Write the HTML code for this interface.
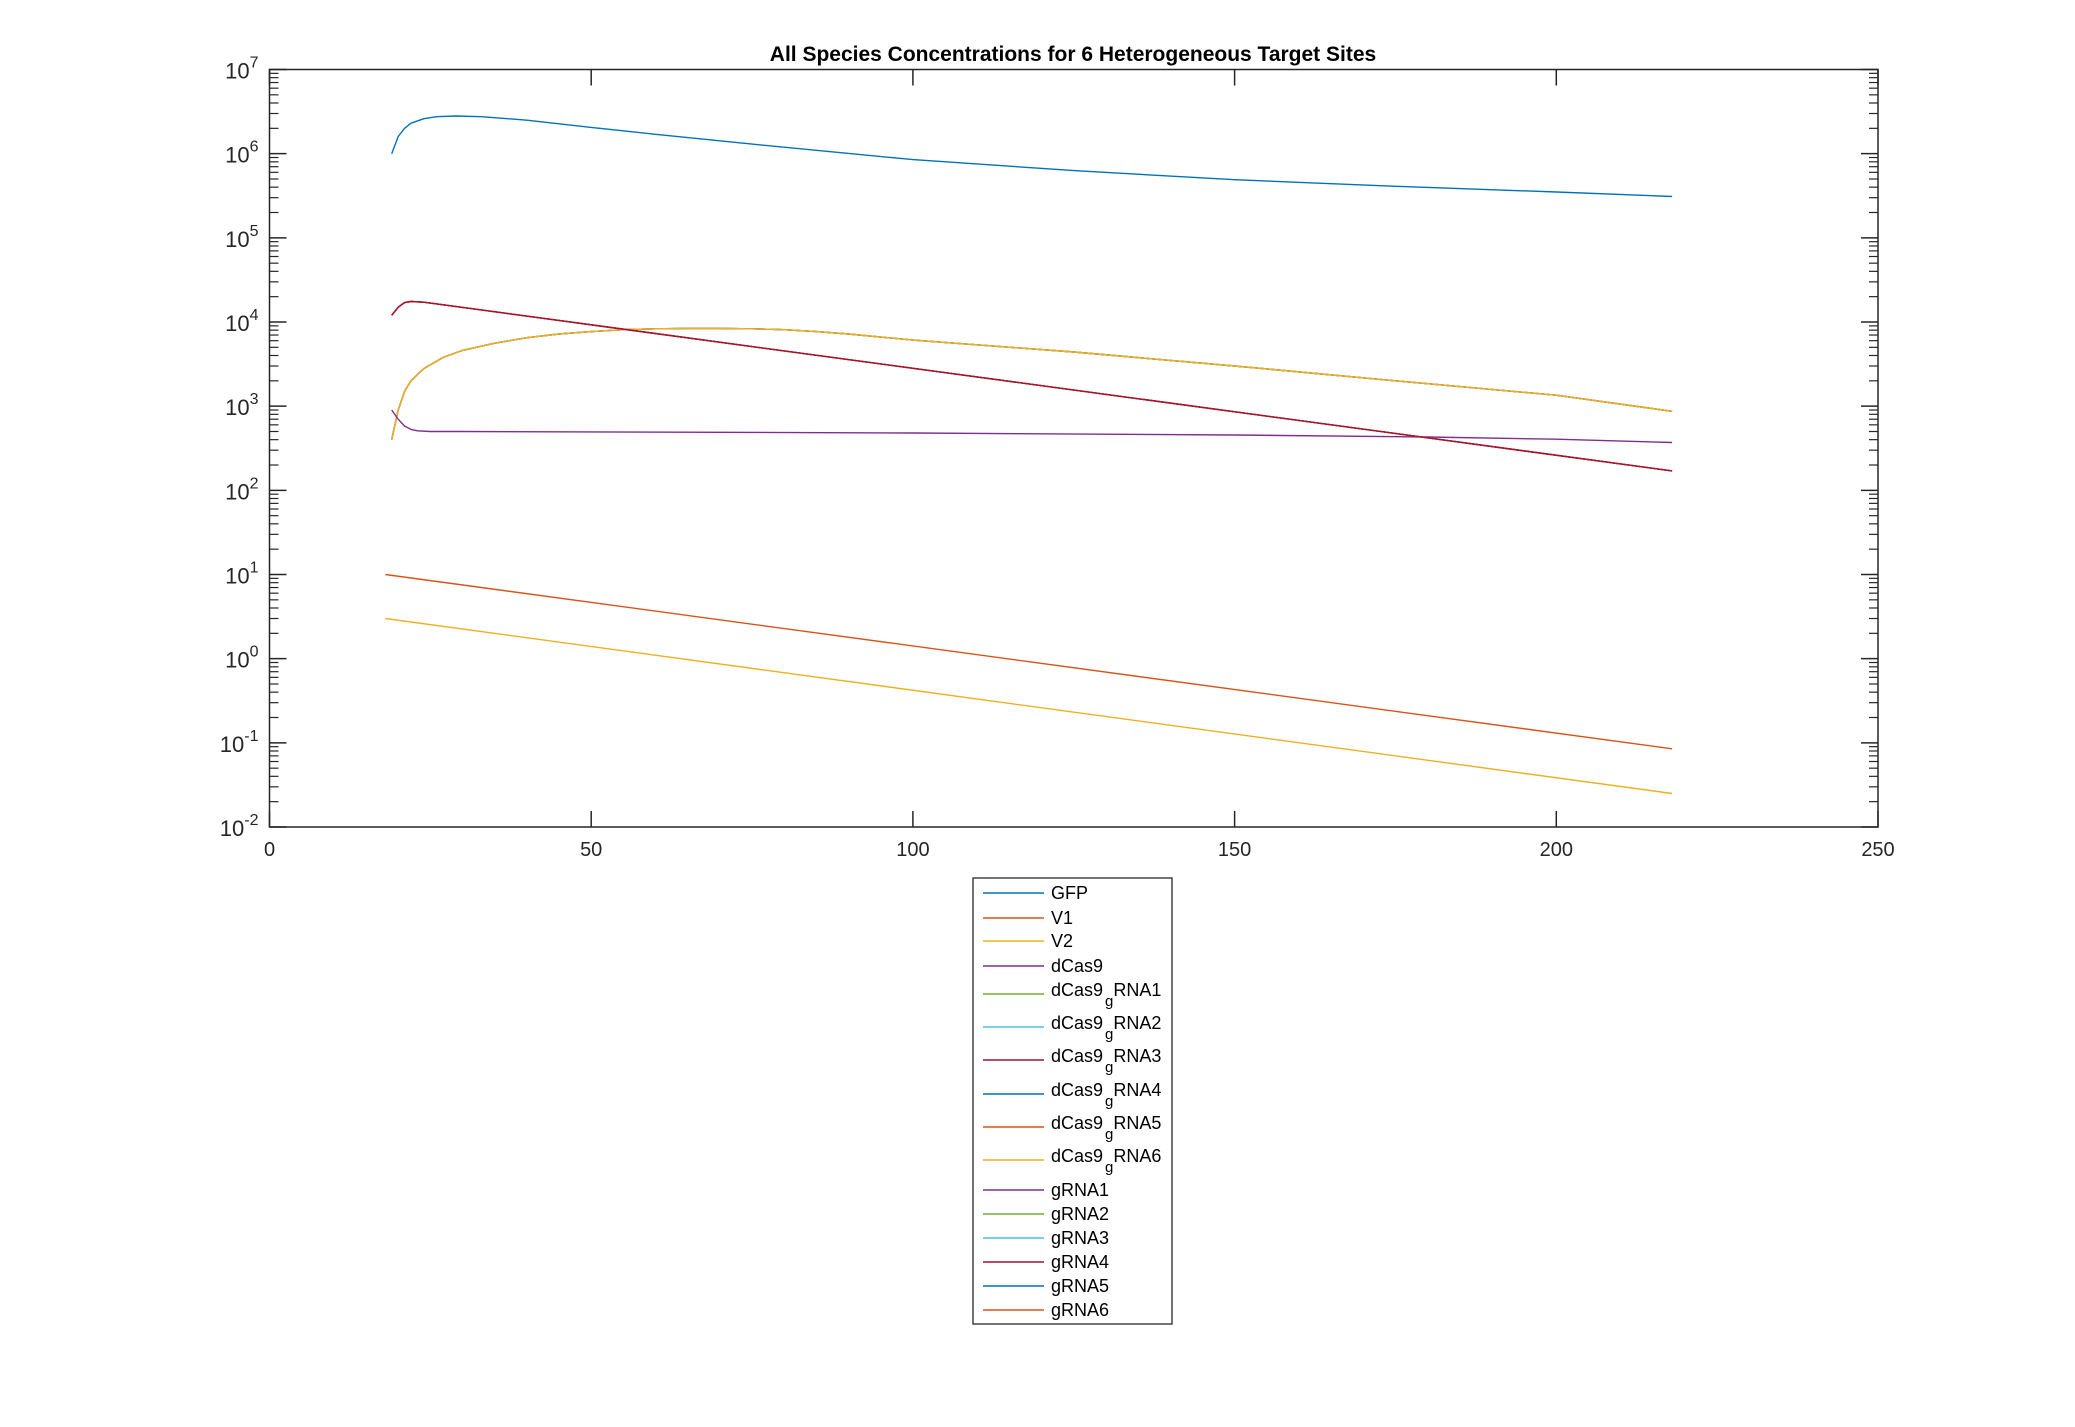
<!DOCTYPE html>
<html><head><meta charset="utf-8"><style>
html,body{margin:0;padding:0;background:#fff;}
svg{display:block;font-family:"Liberation Sans",Arial,sans-serif;}
</style></head><body>
<svg id="chart" width="2075" height="1427" viewBox="0 0 2075 1427">
<rect width="2075" height="1427" fill="#fff"/>
<text x="1073" y="61" text-anchor="middle" font-size="21" font-weight="bold" fill="#000">All Species Concentrations for 6 Heterogeneous Target Sites</text>
<g id="axes"></g>
<g id="series"></g>
<g id="legend"></g>
</svg>
<script>
const xTicks=[0,50,100,150,200,250];
const yExps=[-2,-1,0,1,2,3,4,5,6,7];
const gfpT=[19,20,21,22,24,26,29,33,40,50,60,75,100,125,150,175,200,218];
const gfpY=[1e6,1.6e6,2.0e6,2.3e6,2.6e6,2.75e6,2.8e6,2.75e6,2.5e6,2.05e6,1.7e6,1.3e6,8.5e5,6.3e5,4.9e5,4.1e5,3.5e5,3.1e5];
const v1T=[18,218];
const v1Y=[10,0.085];
const v2T=[18,218];
const v2Y=[3,0.025];
const complexT=[19,20,21,22,24,218];
const complexY=[1.2e4,1.5e4,1.7e4,1.75e4,1.72e4,170];
const riseT=[19,20,21,22,24,27,30,35,40,45,50,55,60,65,70,75,80,85,90,100,125,150,175,200,218];
const riseY=[400,900,1500,2000,2800,3800,4600,5600,6500,7200,7700,8100,8300,8400,8400,8300,8100,7700,7200,6100,4400,3000,2000,1350,870];
const gT=[19,20,21,22,23,25,30,50,100,150,180,200,218];
const gY=[900,700,580,530,510,500,500,495,480,455,430,405,370];
const legendLabels=["GFP","V1","V2","dCas9","dCas9_gRNA1","dCas9_gRNA2","dCas9_gRNA3","dCas9_gRNA4","dCas9_gRNA5","dCas9_gRNA6","gRNA1","gRNA2","gRNA3","gRNA4","gRNA5","gRNA6"];
const C=["#0072BD","#D95319","#EDB120","#7E2F8E","#77AC30","#4DBEEE","#A2142F"];
const L=269.5,R=1878,T=69.5,B=827;
const NS="http://www.w3.org/2000/svg";
function X(v){return L+(v-0)/(250-0)*(R-L);}
function Y(v){return B-(Math.log10(v)-(-2))/9*(B-T);}
function mk(tag,attrs,parent){const e=document.createElementNS(NS,tag);for(const k in attrs)e.setAttribute(k,attrs[k]);parent.appendChild(e);return e;}
const ax=document.getElementById('axes');
let box=mk('rect',{x:L,y:T,width:R-L,height:B-T,fill:'none',stroke:'#262626','stroke-width':1.5},ax);


xTicks.forEach(v=>{
  const x=X(v);
  let t1=mk('line',{x1:x,y1:B,x2:x,y2:B-16,stroke:'#262626','stroke-width':1.5},ax);
  
  
  mk('line',{x1:x,y1:T,x2:x,y2:T+16,stroke:'#262626','stroke-width':1.5},ax);
  let lb=mk('text',{x:x,y:B+29,'text-anchor':'middle','font-size':20,fill:'#262626'},ax);
  lb.textContent=String(v);
  
  
});
yExps.forEach(e=>{
  const y=Y(Math.pow(10,e));
  mk('line',{x1:L,y1:y,x2:L+17,y2:y,stroke:'#262626','stroke-width':1.5},ax);
  mk('line',{x1:R,y1:y,x2:R-17,y2:y,stroke:'#262626','stroke-width':1.5},ax);
  if(e<7){for(let m=2;m<=9;m++){const yy=Y(m*Math.pow(10,e));
    mk('line',{x1:L,y1:yy,x2:L+9,y2:yy,stroke:'#262626','stroke-width':1.2},ax);
    mk('line',{x1:R,y1:yy,x2:R-9,y2:yy,stroke:'#262626','stroke-width':1.2},ax);}}
  let lb=mk('text',{x:L-11,y:y+9,'text-anchor':'end','font-size':22,fill:'#262626'},ax);
  
  
  lb.appendChild(document.createTextNode('10'));
  const sp=document.createElementNS(NS,'tspan');sp.setAttribute('dy','-11');sp.setAttribute('font-size','16');sp.textContent=String(e);lb.appendChild(sp);
});
const sg=document.getElementById('series');
function draw(ts,ys,color,name){
  const d=ts.map((t,i)=>(i?'L':'M')+X(t).toFixed(1)+','+Y(ys[i]).toFixed(1)).join(' ');
  const p=mk('path',{d:d,fill:'none',stroke:color,'stroke-width':1.4,'stroke-linejoin':'round'},sg);
  
  
}
draw(complexT,complexY,C[3],'dcas9-line');
draw(riseT,riseY,C[4],'dcas9-grna1-line');
draw(riseT,riseY,C[5],'dcas9-grna2-line');
draw(complexT,complexY,C[6],'dcas9-grna3-line');
draw(riseT,riseY,C[0],'dcas9-grna4-line');
draw(riseT,riseY,C[1],'dcas9-grna5-line');
draw(riseT,riseY,C[2],'dcas9-grna6-line');
draw(gT,gY,C[3],'grna1-line');
draw(complexT,complexY,C[1],'grna6-line');
draw(complexT,complexY,C[6],'grna4-line');
draw(gfpT,gfpY,C[0],'gfp-line');
draw(v1T,v1Y,C[1],'v1-line');
draw(v2T,v2Y,C[2],'v2-line');
const lg=document.getElementById('legend');
let lb=mk('rect',{x:973,y:878,width:199,height:446,fill:'#fff',stroke:'#262626','stroke-width':1.3},lg);


const rowY=[893,918,941,966,994,1027,1060,1094,1127,1160,1190,1214,1238,1262,1286,1310];
legendLabels.forEach((lab,i)=>{
  const y=rowY[i];const col=C[i%7];
  let ln=mk('line',{x1:983,y1:y,x2:1044,y2:y,stroke:col,'stroke-width':1.4},lg);
  
  
  const t=mk('text',{x:1051,y:y+6,'font-size':18,fill:'#000'},lg);
  
  
  if(lab.indexOf('_')>0){
    const parts=lab.split('_');
    t.setAttribute('y',y+2);
    t.appendChild(document.createTextNode(parts[0]));
    const s=document.createElementNS(NS,'tspan');s.setAttribute('dy','10');s.setAttribute('dx','2');s.setAttribute('font-size','15');s.textContent='g';t.appendChild(s);
    const r=document.createElementNS(NS,'tspan');r.setAttribute('dy','-10');r.textContent=parts[1].slice(1);t.appendChild(r);
  } else t.textContent=lab;
});
</script>
</body></html>
